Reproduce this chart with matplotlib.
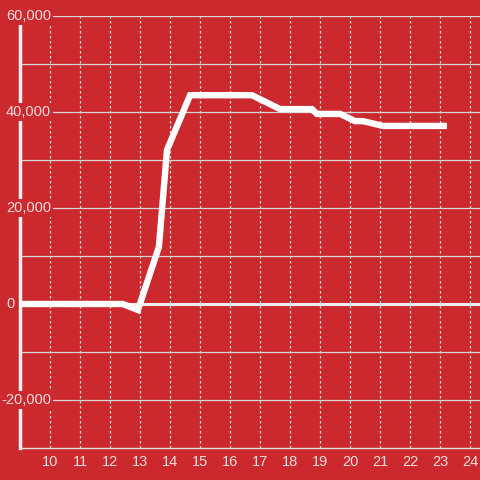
import matplotlib
matplotlib.use("Agg")
import matplotlib.pyplot as plt
import matplotlib.transforms as mtransforms

plt.rcParams['font.family'] = ['Liberation Sans', 'DejaVu Sans']

x_vals = [9.0, 12.43, 12.93, 13.63, 13.9, 14.67, 16.73, 17.67, 18.73, 18.9, 19.67, 20.17, 20.43, 21.1, 23.23]
y_vals = [0, 0, -1250, 11900, 32100, 43500, 43500, 40600, 40600, 39600, 39600, 38100, 38100, 37100, 37100]
x_ticks = list(range(10, 25))
y_ticks = [-20000, 0, 20000, 40000, 60000]
y_labels = ["-20,000", "0", "20,000", "40,000", "60,000"]
y_grid = list(range(-20000, 60001, 10000))

bg = "#cc292e"
txt = "#f2dede"
W, H = 480, 480
fig = plt.figure(figsize=(4.8, 4.8), dpi=100, facecolor=bg)
ax = fig.add_axes([20 / W, (H - 448) / H, 460 / W, (448 - 16) / H])
ax.set_facecolor(bg)
ax.set_xlim(9, 9 + 460 / 30)
ax.set_ylim(-30000, 60000)

for s in ["top", "right"]:
    ax.spines[s].set_visible(False)
ax.spines["left"].set_color("#f2f2f2")
ax.spines["left"].set_linewidth(2.5)
ax.spines["left"].set_bounds(-30000, 58300)
ax.spines["bottom"].set_color("#dddddd")
ax.spines["bottom"].set_linewidth(1)

ax.set_xticks(x_ticks)
ax.set_xticklabels([str(t) for t in x_ticks])
ax.set_yticks([])
ax.tick_params(axis="x", length=0, colors=txt, labelsize=10.5, pad=5)

for g in y_grid:
    if g == 0:
        ax.axhline(g, color="#eeeeee", lw=2.2, zorder=1)
    else:
        ax.axhline(g, color="#d4d4d4", lw=0.9, zorder=1)
for t in x_ticks:
    ax.axvline(t, color="#dddddd", lw=0.9, ls=(0, (2, 2)), zorder=1)

ax.plot(x_vals, y_vals, color="white", lw=4.6, solid_joinstyle="miter",
        solid_capstyle="butt", zorder=3)

trans = mtransforms.blended_transform_factory(fig.transFigure, ax.transData)
for v, lab in zip(y_ticks, y_labels):
    x0 = 1.5 if lab.startswith("-") else 6
    ax.text(x0 / W, v, lab, transform=trans, ha="left", va="center",
            color=txt, fontsize=10.5, zorder=10, clip_on=False,
            bbox=dict(facecolor=bg, edgecolor="none", pad=1.2))

fig.savefig("out.png", dpi=100, facecolor=bg)
